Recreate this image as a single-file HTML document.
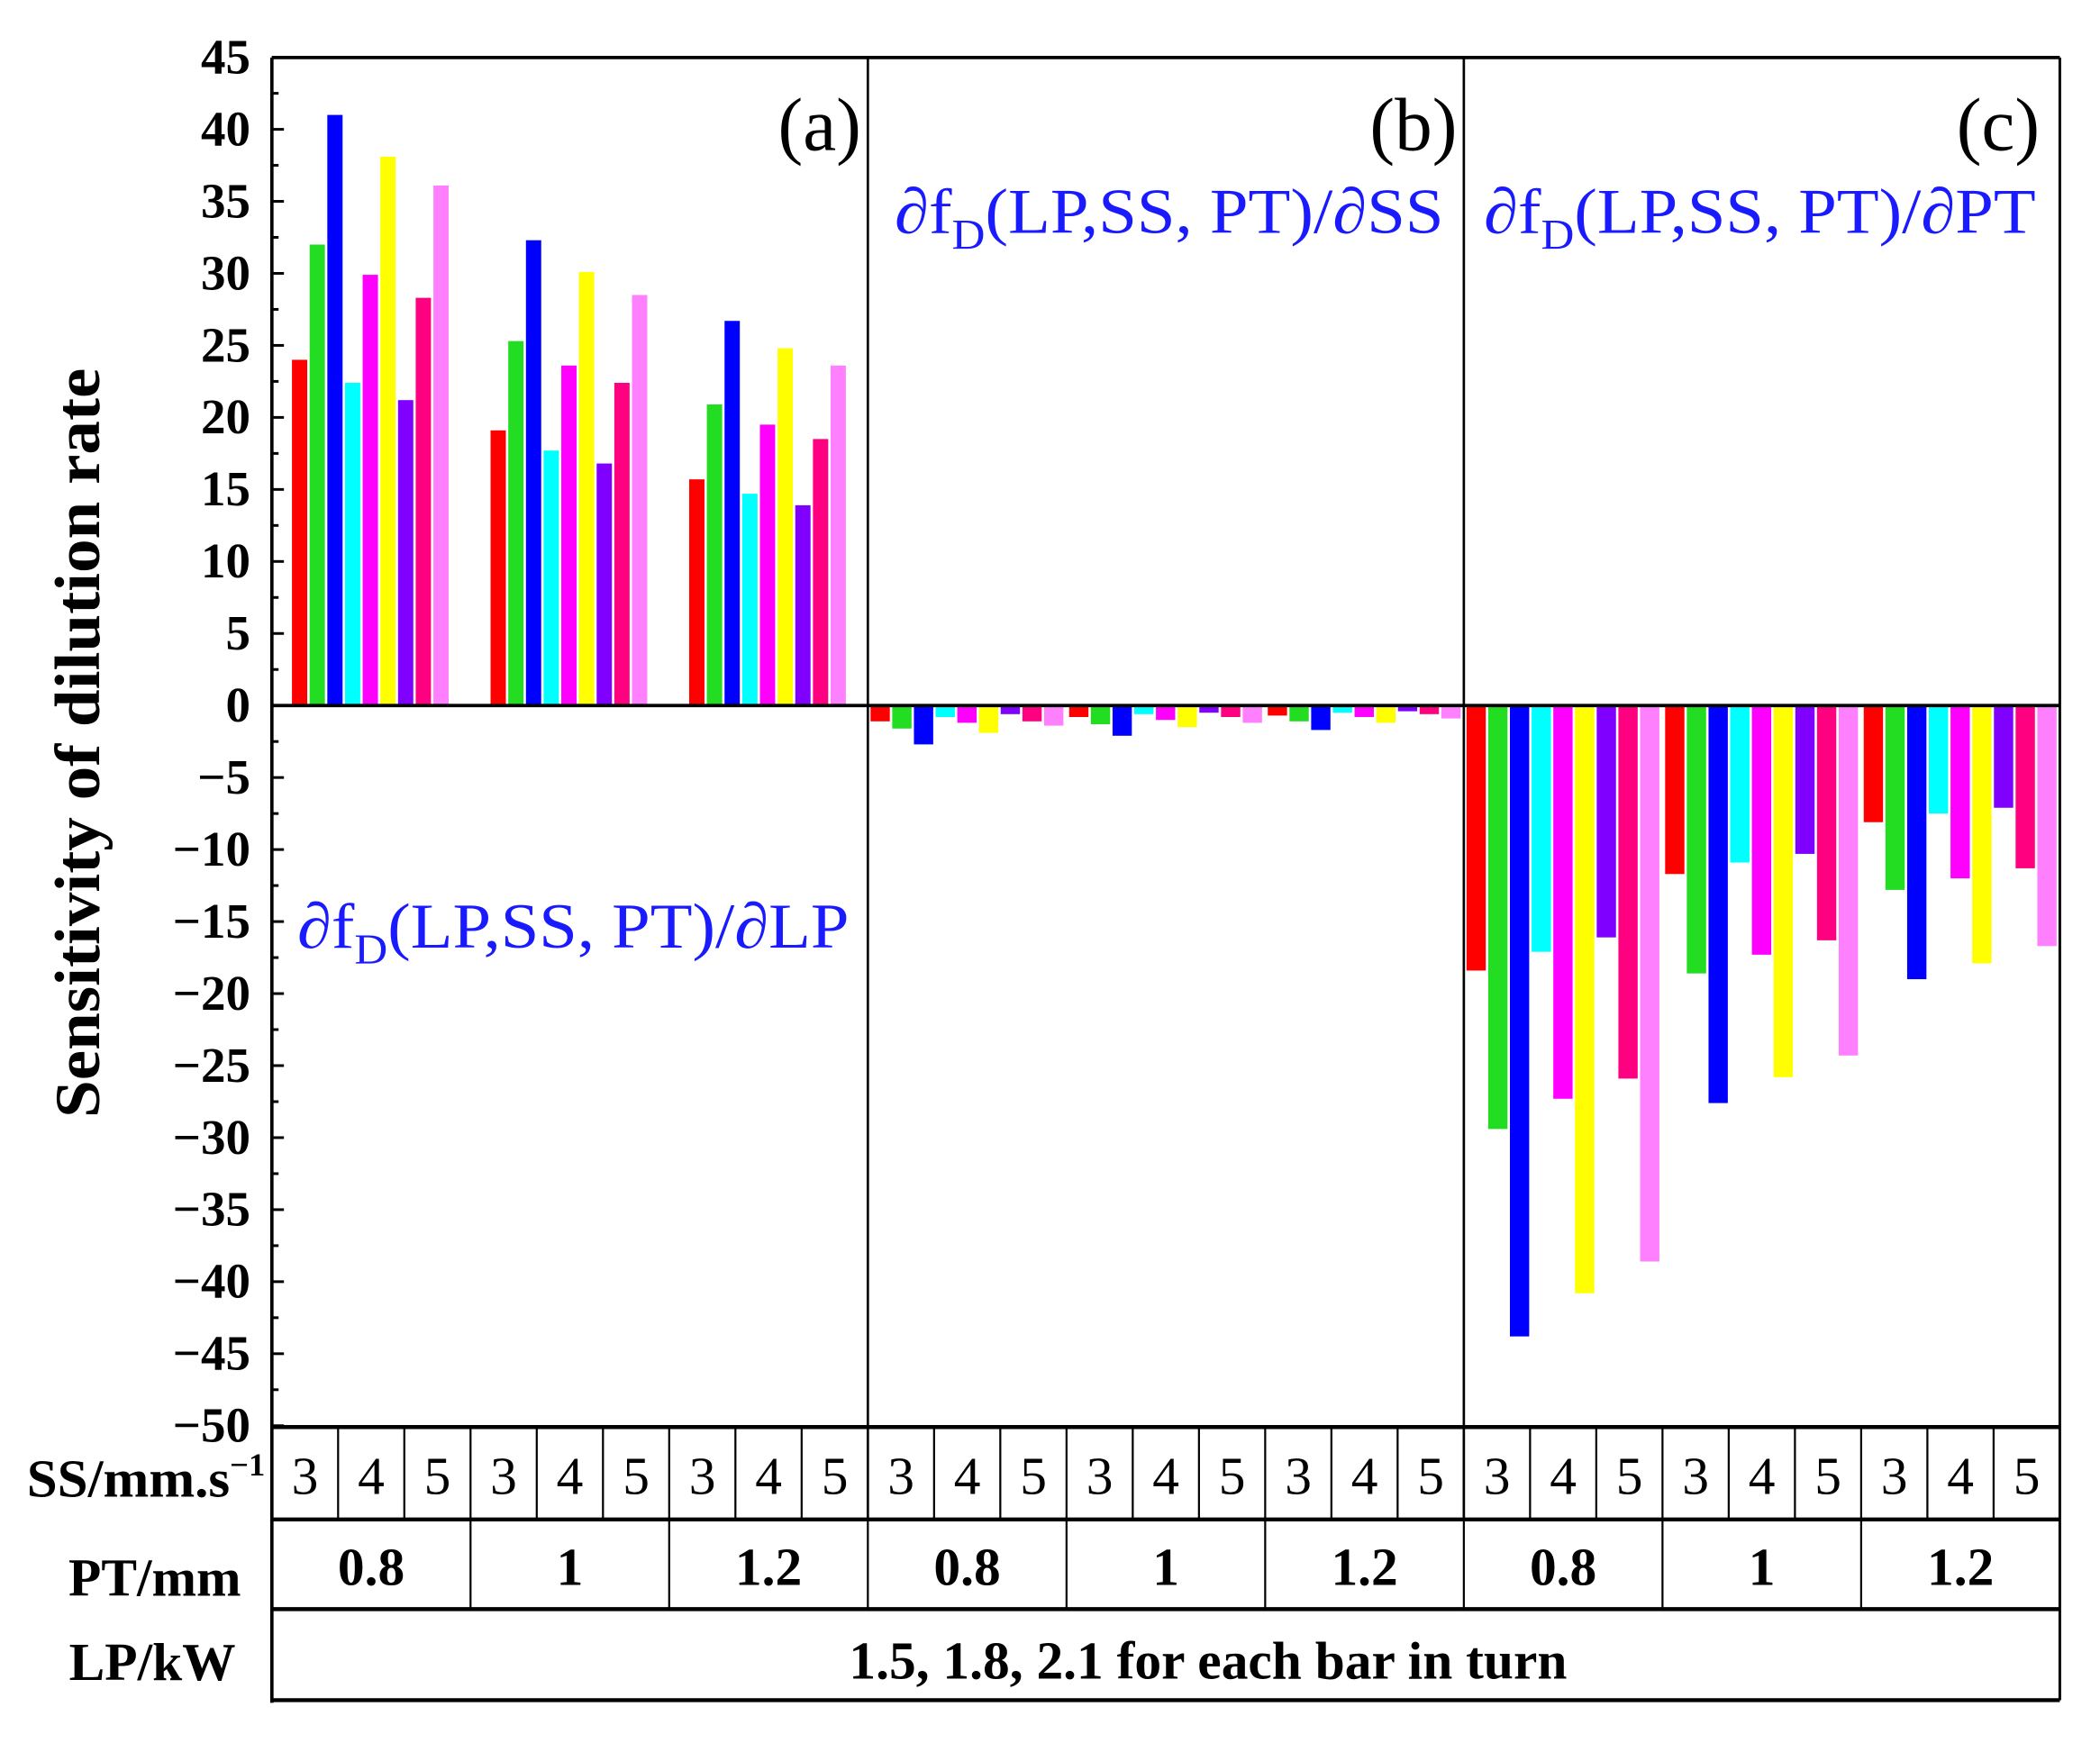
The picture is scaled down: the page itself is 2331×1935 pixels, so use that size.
<!DOCTYPE html>
<html><head><meta charset="utf-8"><style>
html,body{margin:0;padding:0;background:#fff;}
svg{display:block;}
text{font-family:"Liberation Serif",serif;}
</style></head><body>
<svg width="2331" height="1935" viewBox="0 0 1568 1302" preserveAspectRatio="none" xmlns="http://www.w3.org/2000/svg">
<rect width="1568" height="1302" fill="#fff"/>
<g id="bars"></g>
<g id="ticks"></g>
<g stroke="#000" fill="none">
<line x1="203" y1="43" x2="1538" y2="43" stroke-width="2.5"/>
<line x1="203" y1="43" x2="203" y2="1272" stroke-width="2.5"/>
<line x1="1538" y1="43" x2="1538" y2="1270" stroke-width="2"/>
<line x1="648" y1="43" x2="648" y2="1135" stroke-width="1.8"/>
<line x1="1093" y1="43" x2="1093" y2="1135" stroke-width="1.8"/>
<line x1="203" y1="527" x2="1538" y2="527" stroke-width="2.5"/>
<line x1="203" y1="1066" x2="1538" y2="1066" stroke-width="3"/>
<line x1="203" y1="1135" x2="1538" y2="1135" stroke-width="3"/>
<line x1="203" y1="1202" x2="1538" y2="1202" stroke-width="3"/>
<line x1="203" y1="1270" x2="1538" y2="1270" stroke-width="3"/>
</g>
<g id="table" stroke="#000" stroke-width="1.5"></g>
<g font-size="37" text-anchor="end" font-weight="bold" id="ylab"></g>
<text transform="translate(74,555) rotate(-90)" font-size="48" font-weight="bold" text-anchor="middle" textLength="560" lengthAdjust="spacingAndGlyphs">Sensitivity of dilution rate</text>
<text x="643" y="112" font-size="56" text-anchor="end">(a)</text>
<text x="1088" y="112" font-size="56" text-anchor="end">(b)</text>
<text x="1523" y="112" font-size="56" text-anchor="end">(c)</text>
<g fill="#1a1aff" font-size="48">
<text x="222" y="708" textLength="412" lengthAdjust="spacingAndGlyphs">∂f<tspan font-size="32" dy="12">D</tspan><tspan dy="-12">(LP,SS, PT)/∂LP</tspan></text>
<text x="668" y="174" textLength="410" lengthAdjust="spacingAndGlyphs">∂f<tspan font-size="32" dy="12">D</tspan><tspan dy="-12">(LP,SS, PT)/∂SS</tspan></text>
<text x="1108" y="174" textLength="412" lengthAdjust="spacingAndGlyphs">∂f<tspan font-size="32" dy="12">D</tspan><tspan dy="-12">(LP,SS, PT)/∂PT</tspan></text>
</g>
<g font-weight="bold" font-size="40" text-anchor="end">
<text x="198" y="1118" textLength="178" lengthAdjust="spacingAndGlyphs">SS/mm.s<tspan font-size="24" dy="-16">−1</tspan></text>
<text x="180" y="1192">PT/mm</text>
<text x="176" y="1255">LP/kW</text>
</g>
<text x="902" y="1254" font-size="40" font-weight="bold" text-anchor="middle">1.5, 1.8, 2.1 for each bar in turn</text>
<g id="cells"></g>
<script>
var ns="http://www.w3.org/2000/svg";
function el(p,t,a,txt){var e=document.createElementNS(ns,t);for(var k in a)e.setAttribute(k,a[k]);if(txt!==undefined)e.textContent=txt;document.getElementById(p).appendChild(e);return e;}
var z=527,u=10.76;
var cols=["#ff0000","#22dd22","#0000ff","#00ffff","#ff00ff","#ffff00","#8000ff","#ff0080","#ff80ff"];
var data=[
[[24,32,41,22.4,29.9,38.1,21.2,28.3,36.1],[19.1,25.3,32.3,17.7,23.6,30.1,16.8,22.4,28.5],[15.7,20.9,26.7,14.7,19.5,24.8,13.9,18.5,23.6]],
[[-1.1,-1.6,-2.7,-0.8,-1.2,-1.9,-0.6,-1.1,-1.4],[-0.8,-1.3,-2.1,-0.6,-1,-1.5,-0.5,-0.8,-1.2],[-0.7,-1.1,-1.7,-0.5,-0.8,-1.2,-0.4,-0.6,-0.9]],
[[-18.4,-29.4,-43.8,-17.1,-27.3,-40.8,-16.1,-25.9,-38.6],[-11.7,-18.6,-27.6,-10.9,-17.3,-25.8,-10.3,-16.3,-24.3],[-8.1,-12.8,-19,-7.5,-12,-17.9,-7.1,-11.3,-16.7]]];
var pw=445,gw=148.3;
for(var p=0;p<3;p++)for(var g=0;g<3;g++)for(var i=0;i<9;i++){
 var v=data[p][g][i],off,bw;
 if(p==0){off=15;bw=13.2;}else{off=2;bw=16.2;}
 var x=203+p*pw+g*gw+off+i*bw;
 var h=Math.abs(v)*u,y=v>0?z-h:z;
 el("bars","rect",{x:x,y:y,width:bw-1.8,height:h,fill:cols[i]});
}
for(var v=45;v>=-50;v-=2.5){
 var y=z-v*u,maj=(v%5===0);
 el("ticks","line",{x1:203,y1:y,x2:203+(maj?9:5),y2:y,stroke:"#000","stroke-width":2});
 if(maj)el("ylab","text",{x:187,y:y+12},v<0?"\u2212"+(-v):String(v));
}
for(var k=1;k<27;k++){var x=203+k*(1335/27);el("table","line",{x1:x,y1:1066,x2:x,y2:1135});}
for(var k=1;k<9;k++){var x=203+k*(1335/9);el("table","line",{x1:x,y1:1135,x2:x,y2:1202});}
for(var k=0;k<27;k++){var x=203+(k+0.5)*(1335/27);el("cells","text",{x:x,y:1116,"font-size":40,"text-anchor":"middle"},String(3+k%3));}
var pts=["0.8","1","1.2"];
for(var k=0;k<9;k++){var x=203+(k+0.5)*(1335/9);el("cells","text",{x:x,y:1184,"font-size":40,"font-weight":"bold","text-anchor":"middle"},pts[k%3]);}
</script>
</svg>
</body></html>
